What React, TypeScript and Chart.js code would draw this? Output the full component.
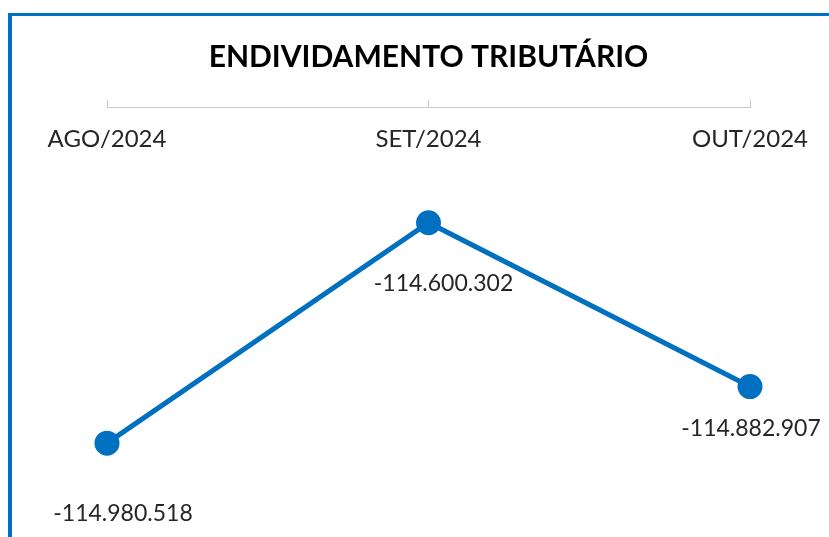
import React, { useEffect, useRef } from "react";
import { Chart, registerables } from "chart.js";

Chart.register(...registerables);

const categories: string[] = ["AGO/2024", "SET/2024", "OUT/2024"];
const values: number[] = [-114980518, -114600302, -114882907];
const valueLabels: string[] = ["-114.980.518", "-114.600.302", "-114.882.907"];
const title = "ENDIVIDAMENTO TRIBUTÁRIO";

const BLUE = "#0070C0";
const TEXT = "#262626";
const FONT = "Lato, 'Open Sans', sans-serif";

const labelOffsets = [
  { dx: 16, dy: 70 },
  { dx: 15, dy: 61 },
  { dx: 1, dy: 42 },
];

const dataLabelPlugin = {
  id: "valueLabels",
  afterDatasetsDraw(chart: any) {
    const ctx = chart.ctx;
    const meta = chart.getDatasetMeta(0);
    ctx.save();
    ctx.font = `23px ${FONT}`;
    ctx.fillStyle = TEXT;
    ctx.textAlign = "center";
    ctx.textBaseline = "middle";
    meta.data.forEach((pt: any, i: number) => {
      const o = labelOffsets[i];
      ctx.fillText(valueLabels[i], pt.x + o.dx, pt.y + o.dy);
    });
    ctx.restore();
  },
};

export default function App() {
  const ref = useRef<HTMLCanvasElement>(null);
  useEffect(() => {
    if (!ref.current) return;
    const chart = new Chart(ref.current, {
      type: "line",
      data: {
        labels: categories,
        datasets: [
          {
            data: values,
            borderColor: BLUE,
            backgroundColor: BLUE,
            borderWidth: 5,
            pointRadius: 10,
            pointHoverRadius: 10,
            pointBackgroundColor: BLUE,
            pointBorderColor: BLUE,
            tension: 0,
          },
        ],
      },
      options: {
        animation: false,
        responsive: true,
        maintainAspectRatio: false,
        layout: { padding: { left: 107, right: 79, top: 0, bottom: 17 } },
        plugins: {
          legend: { display: false },
          tooltip: { enabled: false },
          title: {
            display: true,
            text: title,
            color: "#000",
            font: { family: FONT, size: 30, weight: "bold", lineHeight: 0.7 },
            padding: { top: 47, bottom: 0 },
          },
        },
        scales: {
          x: {
            position: "top",
            offset: false,
            grid: {
              drawOnChartArea: false,
              tickLength: 7,
              color: "#c8c8c8",
            },
            border: { color: "#c8c8c8", width: 1 },
            ticks: {
              mirror: true,
              padding: 16,
              color: TEXT,
              font: { family: FONT, size: 24, lineHeight: 1.35 },
              maxRotation: 0,
            },
          },
          y: {
            display: false,
            min: -115112989,
            max: -114400736,
          },
        },
      },
      plugins: [dataLabelPlugin],
    });
    return () => chart.destroy();
  }, []);

  return (
    <div style={{ position: "absolute", left: 0, top: 0, width: 829, height: 537 }}>
      <div
        style={{
          position: "absolute",
          left: 8,
          top: 13,
          width: 821,
          height: 524,
          boxSizing: "border-box",
          borderTop: `3px solid ${BLUE}`,
          borderLeft: `4px solid ${BLUE}`,
        }}
      />
      <div style={{ position: "absolute", left: 0, top: 0, width: 829, height: 537 }}>
        <canvas ref={ref} />
      </div>
    </div>
  );
}
